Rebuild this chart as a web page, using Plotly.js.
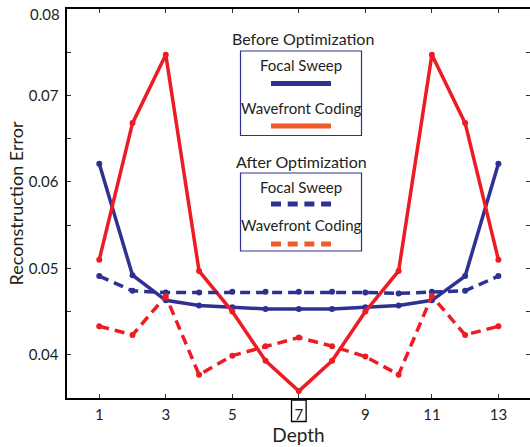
<!DOCTYPE html>
<html>
<head>
<meta charset="utf-8">
<script src="https://cdn.plot.ly/plotly-3.0.1.min.js"></script>
<style>html,body{margin:0;padding:0;overflow:hidden;background:#fff}</style>
</head>
<body>
<div id="chart" style="width:530px;height:447px"></div>
<script>
// ---- data ----
const depth = [1,2,3,4,5,6,7,8,9,10,11,12,13];
const focalBefore = [0.0621,0.0492,0.0463,0.0457,0.0455,0.0453,0.0453,0.0453,0.0455,0.0457,0.0463,0.0491,0.0621];
const waveBefore  = [0.0510,0.0668,0.0747,0.0497,0.0450,0.0393,0.0358,0.0393,0.0450,0.0497,0.0747,0.0668,0.0510];
const focalAfter  = [0.0491,0.0474,0.0472,0.0472,0.0473,0.0473,0.0473,0.0473,0.0472,0.0471,0.0473,0.0474,0.0491];
const waveAfter   = [0.0433,0.0423,0.0468,0.0377,0.0399,0.0410,0.0420,0.0410,0.0398,0.0377,0.0468,0.0423,0.0433];
const xTickVals = [1,3,5,7,9,11,13];
const xTickText = ['1','3','5','7','9','11','13'];
const yTickVals = [0.035,0.04,0.045,0.05,0.055,0.06,0.065,0.07,0.075,0.08];
const yTickText = ['','0.04','','0.05','','0.06','','0.07','','0.08'];
const legendTitles = ['Before Optimization','After Optimization'];
const seriesNames = ['Focal Sweep','Wavefront Coding'];

// ---- style ----
const BLUE = '#2e3192', RED = '#ed1c24', ORANGE = '#f15a29', TXT = '#231f20';
const FONT = 'Lato, "Open Sans", sans-serif';
const W = 530, H = 447, ML = 67, MR = 0, MT = 9, MB = 49;
const PW = W - ML - MR, PH = H - MT - MB;
const px = v => (v - ML) / PW;
const py = v => (H - MB - v) / PH;

function trace(y, color, dash){
  return {x: depth, y: y, type:'scatter', mode:'lines+markers',
    line:{color:color, width:3.5, dash:dash}, marker:{color:color, size:6},
    showlegend:false, hoverinfo:'skip'};
}
const data = [
  trace(focalBefore, BLUE, 'solid'),
  trace(waveBefore, RED, 'solid'),
  trace(focalAfter, BLUE, '10px,6px'),
  trace(waveAfter, RED, '10px,6px')
];

const shapes = [];
const annotations = [];
function txt(s, cx, cy, size){
  annotations.push({text:s, xref:'paper', yref:'paper', x:px(cx), y:py(cy),
    xanchor:'center', yanchor:'middle', showarrow:false,
    font:{family:FONT, size:size, color:TXT}});
}
function box(x0,x1,y0,y1){
  shapes.push({type:'rect', xref:'paper', yref:'paper', x0:px(x0), x1:px(x1), y0:py(y1), y1:py(y0),
    line:{color:BLUE, width:1.2}, fillcolor:'rgba(255,255,255,0)'});
}
function sample(y, color, dash){
  shapes.push({type:'line', xref:'paper', yref:'paper', x0:px(271), x1:px(331), y0:py(y), y1:py(y),
    line:{color:color, width:5, dash:dash}});
}
// legend group 1
txt(legendTitles[0], 302.5, 38.5, 16);
box(240.5, 361.5, 51, 135.5);
txt(seriesNames[0], 300.5, 64.5, 15);
sample(83.5, BLUE, 'solid');
txt(seriesNames[1], 300.5, 107.5, 15);
sample(126, ORANGE, 'solid');
// legend group 2
txt(legendTitles[1], 301.5, 161.5, 16);
box(240.5, 361.5, 173, 251);
txt(seriesNames[0], 300.5, 186.5, 15);
sample(204, BLUE, '10px,6.7px');
txt(seriesNames[1], 300.5, 225, 15);
sample(244, ORANGE, '10px,6.7px');
// box around tick label 7
shapes.push({type:'rect', xref:'x', yref:'paper', x0:6.78, x1:7.22, y0:py(421.5), y1:py(400),
  line:{color:'#000', width:1.3}});

// top y label (drawn as annotation: at the very edge plotly drops it)
const topLabel = yTickText[yTickText.length - 1];
const yTickTextAxis = yTickText.slice(0, -1).concat(['']);
annotations.push({text:topLabel, xref:'paper', yref:'paper', x:px(62), y:py(14),
  xanchor:'right', yanchor:'middle', showarrow:false,
  font:{family:FONT, size:15, color:TXT}});

const layout = {
  width:W, height:H,
  margin:{l:ML, r:MR, t:MT, b:MB, pad:0},
  paper_bgcolor:'#fff', plot_bgcolor:'#fff',
  font:{family:FONT, color:TXT},
  xaxis:{range:[0.03,13.95], tickvals:xTickVals, ticktext:xTickText,
    ticks:'inside', ticklen:4, tickwidth:1, tickcolor:'#333',
    showline:true, linecolor:'#000', linewidth:1.6, mirror:'ticks',
    showgrid:false, zeroline:false, tickfont:{size:15, family:FONT, color:TXT},
    ticklabelstandoff:2,
    title:{text:'Depth', font:{size:19, family:FONT, color:TXT}, standoff:6}},
  yaxis:{range:[0.035,0.08], tickvals:yTickVals, ticktext:yTickTextAxis,
    ticks:'inside', ticklen:4, tickwidth:1, tickcolor:'#333',
    showline:true, linecolor:'#000', linewidth:1.6, mirror:'ticks',
    showgrid:false, zeroline:false, tickfont:{size:15, family:FONT, color:TXT},
    ticklabelstandoff:4,
    title:{text:'Reconstruction Error', font:{size:18, family:FONT, color:TXT}, standoff:0}},
  shapes:shapes, annotations:annotations
};
Plotly.newPlot('chart', data, layout, {displayModeBar:false, staticPlot:true});
</script>
</body>
</html>
